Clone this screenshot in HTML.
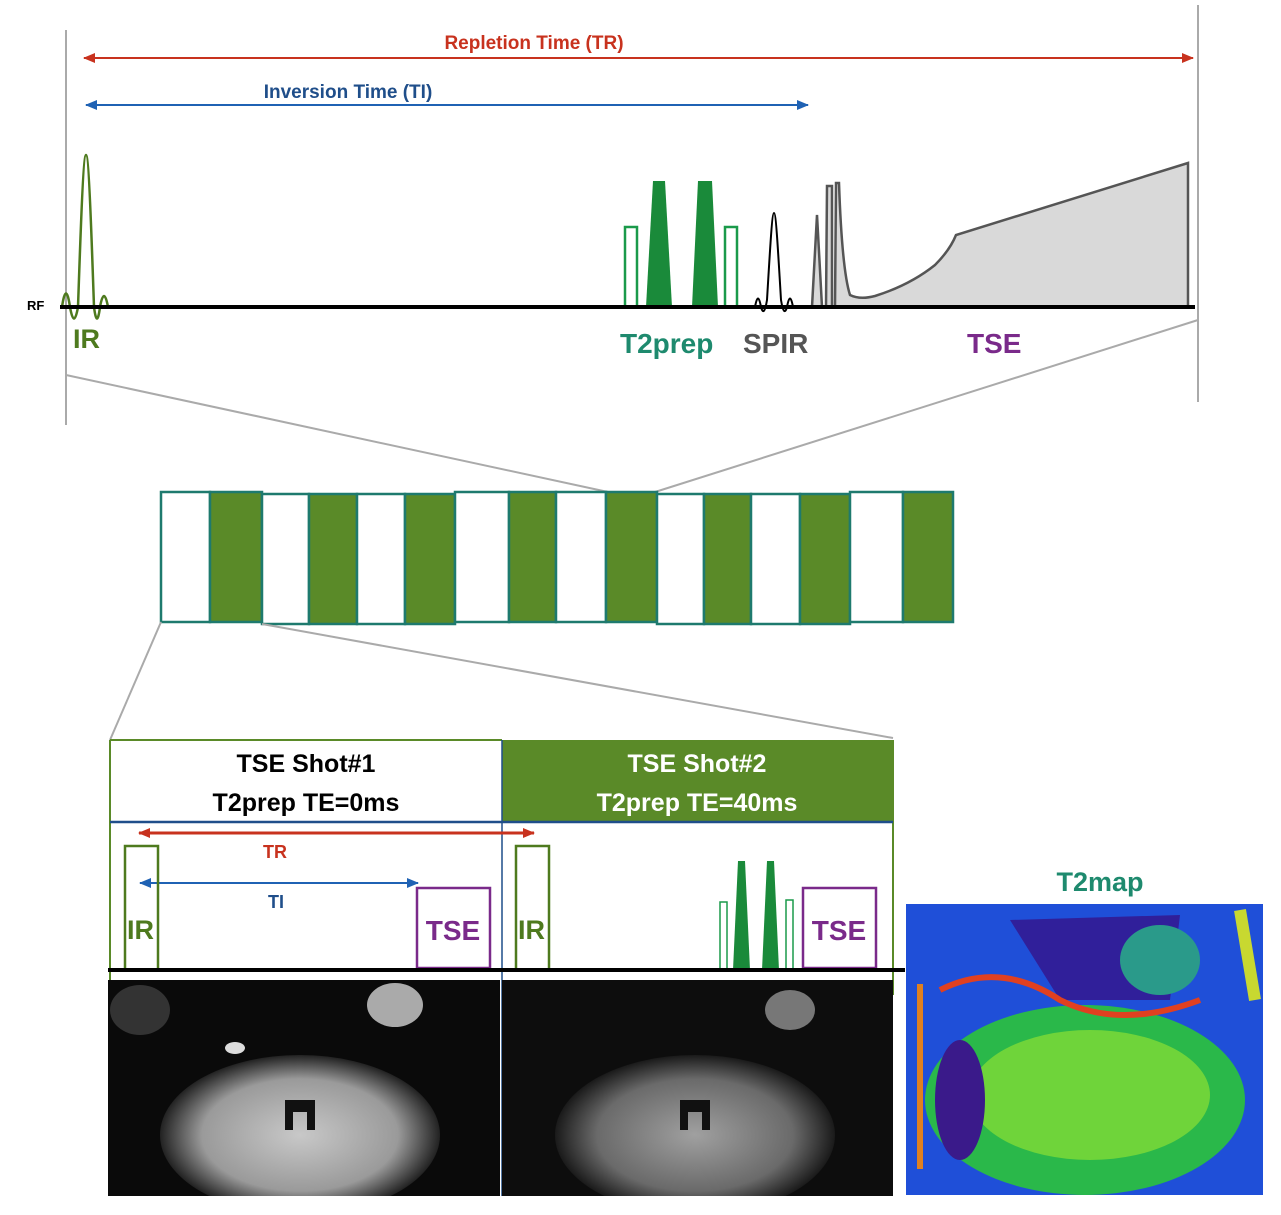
<!DOCTYPE html>
<html><head><meta charset="utf-8"><style>
body{margin:0;background:#fff;}
svg{display:block;font-family:"Liberation Sans",sans-serif;}
</style></head><body>
<svg width="1281" height="1215" viewBox="0 0 1281 1215" xmlns="http://www.w3.org/2000/svg">
<defs>
<marker id="ar" markerWidth="12" markerHeight="10" refX="11" refY="5" orient="auto-start-reverse" markerUnits="userSpaceOnUse"><path d="M0,0 L12,5 L0,10 z" fill="#c8321e"/></marker>
<marker id="ab" markerWidth="12" markerHeight="10" refX="11" refY="5" orient="auto-start-reverse" markerUnits="userSpaceOnUse"><path d="M0,0 L12,5 L0,10 z" fill="#1f62b4"/></marker>
<radialGradient id="brain" cx="50%" cy="50%" r="50%"><stop offset="0" stop-color="#c8c8c8"/><stop offset="0.7" stop-color="#9a9a9a"/><stop offset="1" stop-color="#222"/></radialGradient>
<radialGradient id="brain2" cx="50%" cy="50%" r="50%"><stop offset="0" stop-color="#a0a0a0"/><stop offset="0.7" stop-color="#6a6a6a"/><stop offset="1" stop-color="#1a1a1a"/></radialGradient>
<clipPath id="c1"><rect x="108" y="980" width="392" height="216"/></clipPath>
<clipPath id="c2"><rect x="502" y="980" width="391" height="216"/></clipPath>
<clipPath id="c3"><rect x="906" y="904" width="357" height="291"/></clipPath>
</defs>
<line x1="66" y1="30" x2="66" y2="425" stroke="#aaa" stroke-width="2"/>
<line x1="1198" y1="5" x2="1198" y2="402" stroke="#aaa" stroke-width="2"/>
<line x1="84" y1="58" x2="1193" y2="58" stroke="#c8321e" stroke-width="2" marker-start="url(#ar)" marker-end="url(#ar)"/>
<text x="534" y="49" fill="#c8321e" font-size="19" font-weight="bold" text-anchor="middle">Repletion Time (TR)</text>
<line x1="86" y1="105" x2="808" y2="105" stroke="#1f62b4" stroke-width="2" marker-start="url(#ab)" marker-end="url(#ab)"/>
<text x="348" y="98" fill="#1f4e8a" font-size="19" font-weight="bold" text-anchor="middle">Inversion Time (TI)</text>
<path d="M62,307 Q66,280 70,307 Q74,330 78,307 C80,250 83,155 86,155 C89,155 92,250 94,307 Q97,330 100,307 Q104,285 108,307" fill="none" stroke="#4e7a1e" stroke-width="2.5"/>
<rect x="625" y="227" width="12" height="80" fill="none" stroke="#1a9a4a" stroke-width="2.5"/>
<polygon points="646,307 653,181 665,181 672,307" fill="#1a8a3a"/>
<polygon points="692,307 698,181 712,181 718,307" fill="#1a8a3a"/>
<rect x="725" y="227" width="12" height="80" fill="none" stroke="#1a9a4a" stroke-width="2.5"/>
<path d="M755,307 Q758,290 761,307 Q764,318 767,300 C770,250 772,213 774,213 C776,213 778,250 781,300 Q784,318 787,307 Q790,290 793,307" fill="none" stroke="#000" stroke-width="2"/>
<path d="M812,307 L817,215 L822,307 L826,307 L827,186 L832,186 L832,307 L835,307 L836,183 L839,183 Q842,270 850,295 Q860,300 875,296 Q910,285 935,265 Q950,250 956,235 L1188,163 L1188,307 Z" fill="#d9d9d9" stroke="#555" stroke-width="2.5"/>
<line x1="60" y1="307" x2="1195" y2="307" stroke="#000" stroke-width="4"/>
<text x="27" y="310" font-size="13" font-weight="bold">RF</text>
<text x="73" y="348" fill="#4e7a1e" font-size="27" font-weight="bold">IR</text>
<text x="620" y="353" fill="#1e8a6e" font-size="28" font-weight="bold">T2prep</text>
<text x="743" y="353" fill="#555" font-size="28" font-weight="bold">SPIR</text>
<text x="967" y="353" fill="#7a2a8a" font-size="28" font-weight="bold">TSE</text>
<line x1="66" y1="375" x2="608" y2="492" stroke="#aaa" stroke-width="2"/>
<line x1="1198" y1="320" x2="655" y2="492" stroke="#aaa" stroke-width="2"/>
<g stroke="#1e7a6e" stroke-width="2.5">
<rect x="161" y="492" width="49" height="130" fill="#fff"/>
<rect x="210" y="492" width="52" height="130" fill="#5a8a28"/>
<rect x="262" y="494" width="47" height="130" fill="#fff"/>
<rect x="309" y="494" width="48" height="130" fill="#5a8a28"/>
<rect x="357" y="494" width="48" height="130" fill="#fff"/>
<rect x="405" y="494" width="50" height="130" fill="#5a8a28"/>
<rect x="455" y="492" width="54" height="130" fill="#fff"/>
<rect x="509" y="492" width="47" height="130" fill="#5a8a28"/>
<rect x="556" y="492" width="50" height="130" fill="#fff"/>
<rect x="606" y="492" width="51" height="130" fill="#5a8a28"/>
<rect x="657" y="494" width="47" height="130" fill="#fff"/>
<rect x="704" y="494" width="47" height="130" fill="#5a8a28"/>
<rect x="751" y="494" width="49" height="130" fill="#fff"/>
<rect x="800" y="494" width="50" height="130" fill="#5a8a28"/>
<rect x="850" y="492" width="53" height="130" fill="#fff"/>
<rect x="903" y="492" width="50" height="130" fill="#5a8a28"/>
</g>
<line x1="161" y1="622" x2="110" y2="740" stroke="#aaa" stroke-width="2"/>
<line x1="262" y1="624" x2="893" y2="738" stroke="#aaa" stroke-width="2"/>
<rect x="502" y="740" width="391" height="82" fill="#5a8a28"/>
<line x1="110" y1="740" x2="502" y2="740" stroke="#5a8a28" stroke-width="2"/>
<line x1="110" y1="740" x2="110" y2="995" stroke="#5a8a28" stroke-width="2"/>
<line x1="893" y1="740" x2="893" y2="995" stroke="#5a8a28" stroke-width="2"/>
<line x1="110" y1="822" x2="893" y2="822" stroke="#1f4e8a" stroke-width="2.5"/>
<line x1="502" y1="740" x2="502" y2="1196" stroke="#1f4e8a" stroke-width="1.5"/>
<text x="306" y="772" font-size="25" font-weight="bold" text-anchor="middle">TSE Shot#1</text>
<text x="306" y="811" font-size="25" font-weight="bold" text-anchor="middle">T2prep TE=0ms</text>
<text x="697" y="772" font-size="25" font-weight="bold" text-anchor="middle" fill="#fff">TSE Shot#2</text>
<text x="697" y="811" font-size="25" font-weight="bold" text-anchor="middle" fill="#fff">T2prep TE=40ms</text>
<line x1="139" y1="833" x2="534" y2="833" stroke="#c8321e" stroke-width="3" marker-start="url(#ar)" marker-end="url(#ar)"/>
<text x="275" y="858" fill="#c8321e" font-size="18" font-weight="bold" text-anchor="middle">TR</text>
<line x1="140" y1="883" x2="418" y2="883" stroke="#1f62b4" stroke-width="2" marker-start="url(#ab)" marker-end="url(#ab)"/>
<text x="276" y="908" fill="#1f4e8a" font-size="18" font-weight="bold" text-anchor="middle">TI</text>
<rect x="125" y="846" width="33" height="124" fill="none" stroke="#4e7a1e" stroke-width="2.5"/>
<rect x="516" y="846" width="33" height="124" fill="none" stroke="#4e7a1e" stroke-width="2.5"/>
<text x="127" y="939" fill="#4e7a1e" font-size="27" font-weight="bold">IR</text>
<text x="518" y="939" fill="#4e7a1e" font-size="27" font-weight="bold">IR</text>
<rect x="417" y="888" width="73" height="80" fill="none" stroke="#7a2a8a" stroke-width="2.5"/>
<rect x="803" y="888" width="73" height="80" fill="none" stroke="#7a2a8a" stroke-width="2.5"/>
<text x="453" y="940" fill="#7a2a8a" font-size="28" font-weight="bold" text-anchor="middle">TSE</text>
<text x="839" y="940" fill="#7a2a8a" font-size="28" font-weight="bold" text-anchor="middle">TSE</text>
<rect x="720" y="902" width="7" height="68" fill="none" stroke="#1a9a4a" stroke-width="1.5"/>
<polygon points="733,970 738,861 745,861 750,970" fill="#1a8a3a"/>
<polygon points="762,970 767,861 774,861 779,970" fill="#1a8a3a"/>
<rect x="786" y="900" width="7" height="70" fill="none" stroke="#1a9a4a" stroke-width="1.5"/>
<line x1="108" y1="970" x2="905" y2="970" stroke="#000" stroke-width="4"/>
<g clip-path="url(#c1)">
<rect x="108" y="980" width="392" height="216" fill="#0a0a0a"/>
<ellipse cx="300" cy="1135" rx="140" ry="80" fill="url(#brain)"/>
<ellipse cx="395" cy="1005" rx="28" ry="22" fill="#aaa"/>
<ellipse cx="140" cy="1010" rx="30" ry="25" fill="#333"/>
<ellipse cx="235" cy="1048" rx="10" ry="6" fill="#ddd"/>
<path d="M285,1100 h30 v30 h-8 v-18 h-14 v18 h-8z" fill="#111"/>
</g>
<g clip-path="url(#c2)">
<rect x="502" y="980" width="391" height="216" fill="#0d0d0d"/>
<ellipse cx="695" cy="1135" rx="140" ry="80" fill="url(#brain2)"/>
<ellipse cx="790" cy="1010" rx="25" ry="20" fill="#777"/>
<path d="M680,1100 h30 v30 h-8 v-18 h-14 v18 h-8z" fill="#111"/>
</g>
<text x="1100" y="891" fill="#1e8a6e" font-size="27" font-weight="bold" text-anchor="middle">T2map</text>
<g clip-path="url(#c3)">
<rect x="906" y="904" width="357" height="291" fill="#1f4fd8"/>
<ellipse cx="1085" cy="1100" rx="160" ry="95" fill="#2ab84a"/>
<ellipse cx="1090" cy="1095" rx="120" ry="65" fill="#6fd43a"/>
<path d="M1010,920 L1180,915 L1170,1000 L1060,1000 Z" fill="#301f9a"/>
<ellipse cx="1160" cy="960" rx="40" ry="35" fill="#2a9a8a"/>
<ellipse cx="960" cy="1100" rx="25" ry="60" fill="#3a1a8a"/>
<path d="M940,990 Q1000,960 1060,1000 Q1120,1030 1200,1000" fill="none" stroke="#e04020" stroke-width="6"/>
<path d="M1240,910 L1255,1000" stroke="#c8d830" stroke-width="12"/>
<rect x="917" y="984" width="6" height="185" fill="#e08020"/>
</g>
</svg>
</body></html>
